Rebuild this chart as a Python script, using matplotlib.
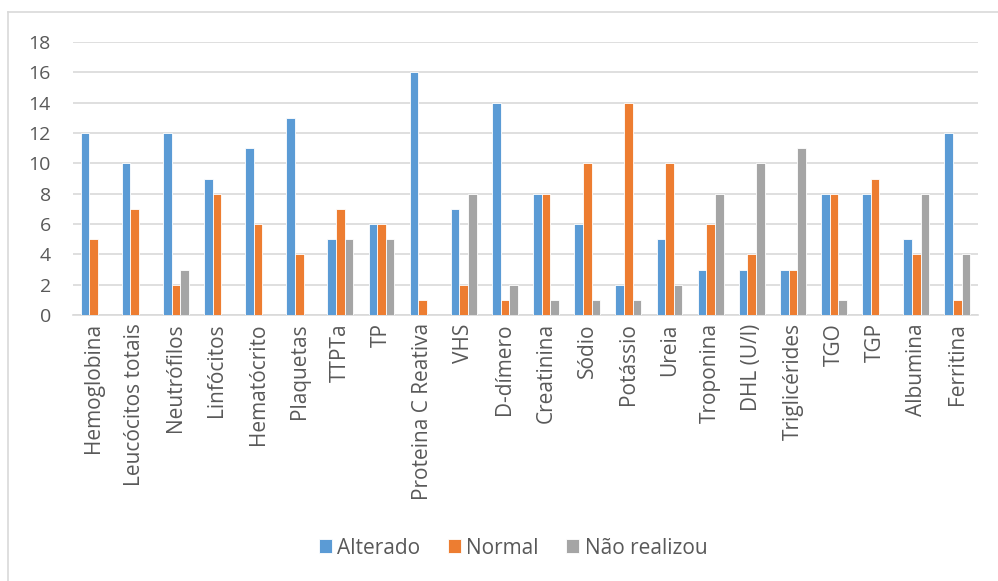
import matplotlib
matplotlib.use("Agg")
import matplotlib.pyplot as plt
from matplotlib.lines import Line2D
import numpy as np

plt.rcParams['font.family'] = ['Open Sans', 'DejaVu Sans']

categories = ["Hemoglobina", "Leucócitos totais", "Neutrófilos", "Linfócitos",
              "Hematócrito", "Plaquetas", "TTPTa", "TP", "Proteina C Reativa",
              "VHS", "D-dímero", "Creatinina", "Sódio", "Potássio", "Ureia",
              "Troponina", "DHL (U/l)", "Triglicérides", "TGO", "TGP",
              "Albumina", "Ferritina"]
alterado = [12, 10, 12, 9, 11, 13, 5, 6, 16, 7, 14, 8, 6, 2, 5, 3, 3, 3, 8, 8, 5, 12]
normal = [5, 7, 2, 8, 6, 4, 7, 6, 1, 2, 1, 8, 10, 14, 10, 6, 4, 3, 8, 9, 4, 1]
nao_realizou = [0, 0, 3, 0, 0, 0, 5, 5, 0, 8, 2, 1, 1, 1, 2, 8, 10, 11, 1, 0, 8, 4]
series_names = ["Alterado", "Normal", "Não realizou"]
colors = ["#5B9BD5", "#ED7D31", "#A5A5A5"]
yticks = [0, 2, 4, 6, 8, 10, 12, 14, 16, 18]

W, H = 998, 581
fig = plt.figure(figsize=(W / 100, H / 100), dpi=100)

# chart-area frame (top and left edges)
fig.add_artist(Line2D([8 / W, 8 / W], [0, 1 - 12 / H], transform=fig.transFigure,
                      color="#D9D9D9", lw=1.2))
fig.add_artist(Line2D([8 / W, 1], [1 - 12 / H, 1 - 12 / H], transform=fig.transFigure,
                      color="#D9D9D9", lw=1.2))

left, right = 73 / W, 978 / W
bottom, top = 1 - 315 / H, 1 - 42 / H
ax = fig.add_axes([left, bottom, right - left, top - bottom])

x = np.arange(len(categories))
bw = 0.21
for i, (vals, name, c) in enumerate(zip([alterado, normal, nao_realizou], series_names, colors)):
    ax.bar(x + (i - 1) * bw, vals, width=bw, color=c, edgecolor="white",
           linewidth=0.6, label=name, zorder=3)

ax.set_xlim(-0.5, len(categories) - 0.5)
ax.set_ylim(0, 18)
ax.set_yticks(yticks)
ax.yaxis.grid(True, color="#D9D9D9", lw=1.2, zorder=0)
ax.set_axisbelow(True)
for s in ["top", "right", "left"]:
    ax.spines[s].set_visible(False)
ax.spines["bottom"].set_color("#D9D9D9")
ax.spines["bottom"].set_linewidth(1.2)
ax.tick_params(axis="both", length=0, colors="#595959")
ax.tick_params(axis="y", pad=16, labelsize=14)
ax.set_xticks(x)
ax.set_xticklabels(categories, rotation=90, va="top", ha="center", fontsize=15)
ax.tick_params(axis="x", pad=6)

leg = fig.legend(loc="center", bbox_to_anchor=(513 / W, 1 - 548 / H), ncol=3,
                 frameon=False, fontsize=15, handlelength=0.65, handleheight=0.65,
                 handletextpad=0.25, columnspacing=1.3)
for t in leg.get_texts():
    t.set_color("#595959")

fig.savefig("out.png", dpi=100)
